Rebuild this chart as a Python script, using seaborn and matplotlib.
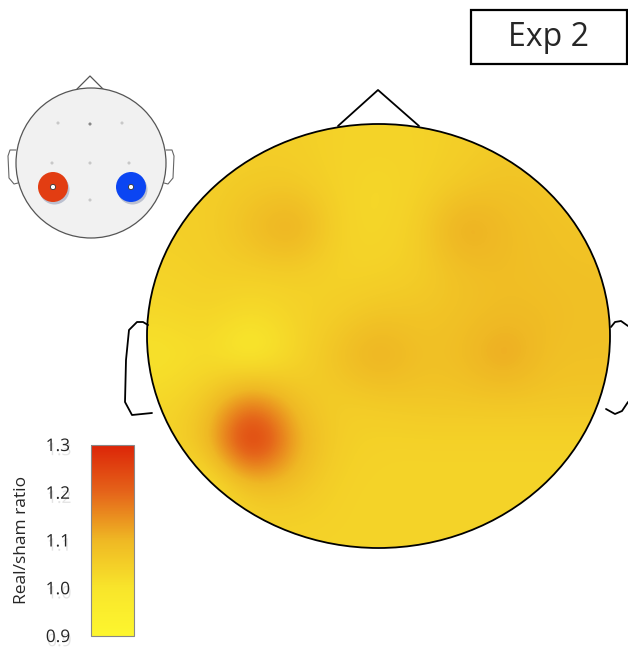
import numpy as np
import seaborn as sns
import matplotlib.pyplot as plt
import matplotlib.patheffects as pe
from matplotlib.patches import Ellipse, Circle, Rectangle

sns.set_style('white')
plt.rcParams['font.family'] = ['Open Sans', 'DejaVu Sans']

# real/sham ratio sampled on a coarse grid over the head (rows top -> bottom)
ratio_grid = np.array([
    [1.05, 1.05, 1.05, 1.05, 1.04, 1.04, 1.04, 1.05, 1.06, 1.06, 1.06],
    [1.05, 1.05, 1.06, 1.06, 1.04, 1.03, 1.04, 1.06, 1.08, 1.07, 1.06],
    [1.05, 1.05, 1.09, 1.14, 1.04, 1.03, 1.05, 1.14, 1.09, 1.08, 1.07],
    [1.04, 1.05, 1.05, 1.05, 1.04, 1.04, 1.05, 1.08, 1.09, 1.08, 1.08],
    [1.03, 1.04, 1.02, 1.04, 1.05, 1.07, 1.07, 1.08, 1.09, 1.09, 1.08],
    [1.00, 1.02, 0.96, 1.03, 1.08, 1.13, 1.08, 1.09, 1.14, 1.08, 1.08],
    [1.03, 1.06, 1.16, 1.07, 1.05, 1.06, 1.07, 1.07, 1.07, 1.07, 1.07],
    [1.04, 1.09, 1.38, 1.12, 1.05, 1.04, 1.04, 1.04, 1.04, 1.04, 1.04],
    [1.03, 0.99, 1.08, 1.08, 1.04, 1.04, 1.04, 1.04, 1.04, 1.04, 1.04],
    [1.03, 1.03, 1.04, 1.04, 1.04, 1.04, 1.04, 1.04, 1.04, 1.04, 1.04],
])
vmin, vmax = 0.9, 1.3
cbar_ticks = [0.9, 1.0, 1.1, 1.2, 1.3]
cbar_label = 'Real/sham ratio'
title = 'Exp 2'

# stimulation montage (small inset head): grey sites, anode / cathode
site_x = [58, 90, 122, 52, 90, 129, 90]
site_y = [123, 124, 123, 163, 163, 163, 200]
stim_x = [53, 131]
stim_y = [187, 187]
stim_colors = ['#e23d12', '#0b45f2']

cmap = sns.blend_palette(['#fdf62e', '#f8e52b', '#efb824', '#e5651a', '#dc2508'],
                         as_cmap=True)

fig = plt.figure(figsize=(6.28, 6.5), dpi=100)
ax = fig.add_axes([0, 0, 1, 1])

# big topographic map
head = Ellipse((378.5, 336), 463, 424, facecolor='none', edgecolor='black', lw=1.3, zorder=5)
clip = Ellipse((378.5, 336), 463, 424, transform=ax.transData)
im = ax.imshow(ratio_grid, cmap=cmap, vmin=vmin, vmax=vmax, interpolation='bicubic',
               extent=(146, 611, 547, 122), zorder=2)
im.set_clip_path(clip)
ax.add_patch(head)
ax.plot([338, 378, 419], [126, 90, 126], color='black', lw=1.3, zorder=4)
ax.plot([148, 143, 137, 129, 126, 125, 132, 152],
        [325, 322, 322, 330, 360, 402, 415, 413], color='black', lw=1.3, zorder=4)
ax.plot([611, 615, 621, 628], [327, 322, 321, 326], color='black', lw=1.3, zorder=4)
ax.plot([628, 622, 615, 606], [402, 411, 414, 409], color='black', lw=1.3, zorder=4)

# small montage head
ax.add_patch(Circle((91, 163), 75, facecolor='#f1f1f1', edgecolor='#555555', lw=0.9, zorder=3))
ax.plot([77, 90, 103], [89, 76, 89], color='#555555', lw=0.9, zorder=2)
ax.plot([16, 10, 8, 9, 14, 18], [150, 150, 156, 178, 184, 183], color='#666666', lw=0.8, zorder=2)
ax.plot([166, 172, 174, 173, 168, 164], [150, 150, 156, 178, 184, 183], color='#666666', lw=0.8, zorder=2)
ax.scatter(site_x, site_y, s=5, color=['#c8c8c8', '#888888', '#c8c8c8', '#c8c8c8', '#c8c8c8',
                                       '#c8c8c8', '#c8c8c8'], zorder=4, linewidths=0)
for x, y, c in zip(stim_x, stim_y, stim_colors):
    ax.add_patch(Circle((x + 1.5, y + 2.5), 15, facecolor='#7a86a8', alpha=0.45, zorder=4, lw=0))
    ax.add_patch(Circle((x, y), 15, facecolor=c, zorder=5, lw=0))
    ax.add_patch(Circle((x, y), 2.6, facecolor='white', edgecolor='#333333', lw=0.6, zorder=6))

# title box
ax.add_patch(Rectangle((471, 10), 156, 54, facecolor='white', edgecolor='black', lw=1.6, zorder=3))
ax.text(549, 38, title, fontsize=23, ha='center', va='center', zorder=4)

ax.set_xlim(0, 628)
ax.set_ylim(650, 0)
ax.set_aspect('auto')
ax.axis('off')

# colour bar
cax = fig.add_axes([91 / 628, 1 - 636 / 650, 43 / 628, 191 / 650])
cb = fig.colorbar(im, cax=cax, ticks=cbar_ticks)
cb.outline.set_edgecolor('#888888')
cb.outline.set_linewidth(0.8)
cax.yaxis.set_ticks_position('left')
cax.tick_params(length=0, pad=15, labelsize=12.5)
shadow = [pe.SimplePatchShadow(offset=(1, -3), shadow_rgbFace='#b0b0b0', alpha=0.35), pe.Normal()]
for t in cax.get_yticklabels():
    t.set_path_effects(shadow)
cax.set_ylim(vmin, vmax)
fig.text(22 / 628, 1 - 540 / 650, cbar_label, rotation=90, fontsize=12.5,
         ha='center', va='center')

plt.savefig('out.png', dpi=100)
